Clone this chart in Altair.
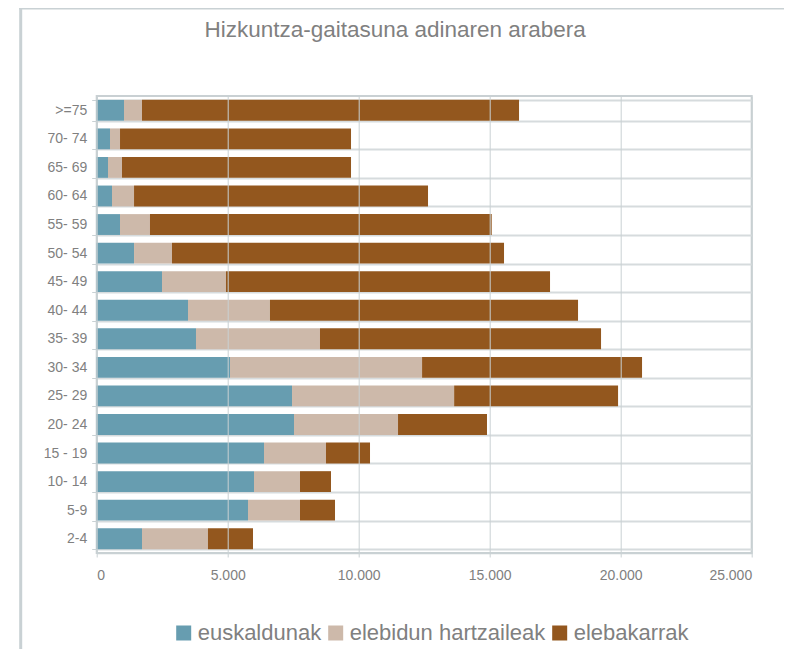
import altair as alt
import pandas as pd

ages = [">=75", "70- 74", "65- 69", "60- 64", "55- 59", "50- 54", "45- 49", "40- 44",
        "35- 39", "30- 34", "25- 29", "20- 24", "15 - 19", "10- 14", "5-9", "2-4"]
euskaldunak = [1042, 508, 432, 585, 890, 1425, 2493, 3485, 3790, 5088, 7455, 7531, 6386, 6004, 5775, 1729]
elebidun = [687, 382, 534, 840, 1144, 1449, 2442, 3129, 4733, 7331, 6188, 3970, 2366, 1756, 1985, 2518]
elebakarrak = [14391, 8817, 8741, 11221, 13043, 12673, 12368, 11758, 10727, 8396, 6257, 3396, 1680, 1183, 1336, 1719]
series = ["euskaldunak", "elebidun hartzaileak", "elebakarrak"]
colors = ["#679db0", "#cdb9aa", "#93571e"]
x_ticks = [0, 5000, 10000, 15000, 20000, 25000]
title_text = ["Hizkuntza-gaitasuna adinaren arabera"]

rows = []
for i, a in enumerate(ages):
    for j, (s, vals) in enumerate(zip(series, [euskaldunak, elebidun, elebakarrak])):
        rows.append({"adina": a, "taldea": s, "balioa": vals[i], "ordena": j})
df = pd.DataFrame(rows)

FONT = "Liberation Sans"
GRAY = "#808080"
LINE = "#c9d1d4"

bars = alt.Chart(df).mark_bar().encode(
    y=alt.Y("adina:N", sort=ages,
            scale=alt.Scale(paddingInner=0.27, paddingOuter=0.135),
            axis=alt.Axis(title=None, grid=True, tickBand="extent",
                          gridColor="#d6dbdd", gridWidth=2,
                          domainColor=LINE, domainWidth=1.5,
                          tickColor=LINE, tickSize=5, labelPadding=5,
                          labelFont=FONT, labelFontSize=14, labelColor=GRAY)),
    x=alt.X("balioa:Q", stack="zero",
            scale=alt.Scale(domain=[0, 25000], nice=False),
            axis=alt.Axis(title=None, values=x_ticks,
                          labelExpr="replace(format(datum.value, ','), ',', '.')",
                          grid=True, gridColor=LINE, gridWidth=1,
                          domainColor=LINE, domainWidth=1.5,
                          tickColor=LINE, tickSize=4, labelPadding=12,
                          labelFont=FONT, labelFontSize=14, labelColor=GRAY,
                          zindex=1)),
    color=alt.Color("taldea:N", scale=alt.Scale(domain=series, range=colors),
                    legend=alt.Legend(title=None, orient="none", legendX=76, legendY=526,
                                      direction="horizontal", symbolType="square",
                                      symbolSize=225, symbolStrokeWidth=0, symbolOpacity=1,
                                      labelFont=FONT, labelFontSize=22, labelColor=GRAY,
                                      labelOffset=3, columnPadding=3, labelLimit=0)),
    order=alt.Order("ordena:Q"),
)

frame_df = pd.DataFrame({"k": [0]})
left_frame = alt.Chart(frame_df).mark_rule(color=LINE, strokeWidth=3).encode(
    x=alt.value(-76), y=alt.value(-88), y2=alt.value(700))
top_frame = alt.Chart(frame_df).mark_rule(color=LINE, strokeWidth=3).encode(
    x=alt.value(-77.5), x2=alt.value(800), y=alt.value(-88))

title = alt.Chart(pd.DataFrame({"t": title_text})).mark_text(
    font=FONT, fontSize=22.5, color=GRAY, align="center", baseline="alphabetic"
).encode(text="t:N", x=alt.value(298.5), y=alt.value(-59.5))

chart = alt.layer(bars, left_frame, top_frame, title).properties(
    width=655, height=457,
    autosize=alt.AutoSizeParams(type="none"),
    padding={"left": 88.7, "top": 88, "right": 32, "bottom": 100},
).configure_view(stroke="#c9d0d3", strokeWidth=2)

chart.save("out.html", embed_options={"renderer": "svg", "actions": False})
